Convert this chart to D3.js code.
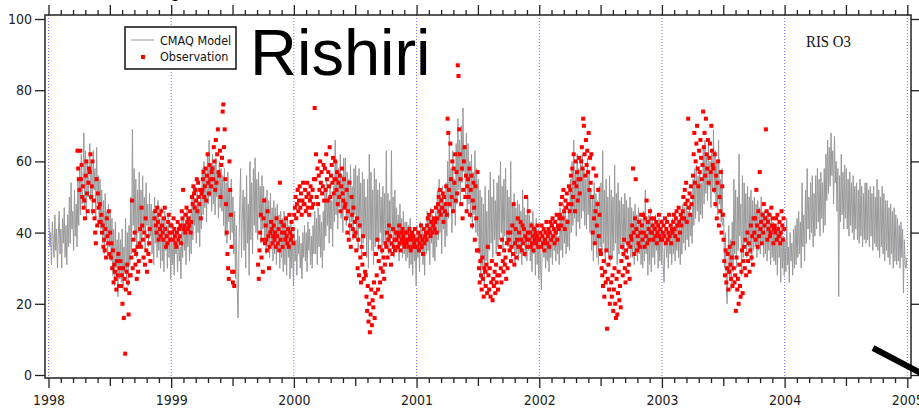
<!DOCTYPE html>
<html><head><meta charset="utf-8">
<script src="https://cdn.jsdelivr.net/npm/d3@7"></script>
<style>body{margin:0;background:#fff}svg{display:block}</style>
</head><body>
<svg id="chart" width="919" height="411"></svg>
<script>
// Daily O3 at Rishiri (ppb): CMAQ model, 12 values per month, Jan 1998 - Dec 2004
const model1998 = [44,36,40,31,43,38,33,45,35,41,30,39, 46,34,41,30,44,37,47,33,42,31,45,36, 50,37,54,41,46,35,52,39,48,36,55,42,
  58,45,62,48,55,68,47,63,44,60,50,57, 65,49,60,45,63,52,58,44,64,48,56,43, 55,41,52,37,49,34,51,38,46,33,48,36,
  46,32,44,28,41,25,43,30,38,22,40,27, 38,26,41,24,36,29,44,27,40,25,42,31, 50,34,69,42,58,38,55,33,52,40,57,36,
  52,38,56,40,50,35,54,42,48,36,51,39, 48,34,46,31,50,37,45,33,49,35,44,30, 47,32,44,29,46,35,42,30,45,33,40,27];
const model1999 = [40,31,38,28,41,34,37,29,39,32,36,27, 44,33,46,35,41,31,47,36,43,32,45,34, 50,38,53,42,48,37,52,40,49,36,51,41,
  58,45,60,47,56,43,62,48,66,50,59,46, 62,48,59,45,61,50,57,44,60,47,58,46, 56,42,58,39,54,37,57,43,52,38,55,40,
  50,34,46,27,42,24,16,35,48,58,33,45, 52,35,50,30,56,37,48,28,60,38,54,34, 58,42,61,40,55,38,57,44,53,37,56,41,
  53,38,50,34,52,36,49,33,51,37,47,32, 49,34,47,31,48,35,45,30,46,33,44,29, 46,31,44,28,45,33,42,27,43,30,40,25];
const model2000 = [40,32,38,28,41,34,39,30,37,27,40,33, 42,32,40,29,43,35,41,31,39,30,42,34, 46,34,44,31,47,36,45,33,43,30,46,35,
  52,39,55,42,50,37,54,41,49,36,53,43, 66,45,60,41,58,47,62,44,56,40,61,48, 61,42,57,44,55,39,59,43,53,38,58,45,
  59,38,56,35,58,41,54,33,57,37,55,39, 50,33,55,30,62,38,57,35,52,31,58,36, 55,38,52,35,54,40,50,34,53,37,51,36,
  63,38,51,34,49,36,63,40,50,33,52,37, 47,35,45,32,48,36,44,33,46,34,43,32, 43,33,42,30,44,31,40,28,41,32,38,25];
const model2001 = [42,33,40,29,43,35,41,31,39,28,42,34, 46,35,44,31,47,37,45,33,43,32,46,36, 52,38,55,40,50,34,53,41,48,36,54,39,
  60,44,68,47,58,40,63,46,55,42,65,48, 72,52,66,48,70,54,75,57,64,50,68,46, 65,48,60,44,62,41,57,45,63,40,58,39,
  55,34,52,27,50,30,48,25,53,32,46,28, 52,35,57,37,50,33,55,38,49,34,54,36, 56,38,60,40,53,35,55,39,58,37,52,36,
  50,35,60,33,48,36,51,31,47,34,49,32, 48,34,46,31,52,37,47,33,45,32,50,35, 45,32,43,29,46,34,42,28,44,31,41,27];
const model2002 = [40,31,24,36,41,33,39,30,38,32,40,29, 42,33,40,31,43,35,41,32,42,34,39,31, 47,35,45,33,48,37,46,34,44,36,47,35,
  55,40,60,42,66,44,57,39,62,43,58,41, 60,44,62,46,58,42,55,41,61,45,57,40, 52,35,50,32,54,37,51,33,49,31,53,36,
  54,34,63,37,52,31,55,35,50,33,56,32, 52,33,50,35,59,37,51,31,54,34,49,36, 50,35,48,33,51,37,49,34,47,36,50,33,
  47,33,46,31,48,35,45,32,47,34,44,31, 44,30,46,32,52,34,43,28,45,31,47,29, 44,33,42,31,45,35,43,30,44,32,41,31];
const model2003 = [42,31,26,38,41,33,40,30,39,34,41,31, 44,34,42,32,45,35,43,33,44,31,42,34, 48,37,47,35,49,38,46,36,48,39,45,37,
  55,42,58,44,59,46,56,43,57,45,54,44, 64,48,66,51,62,49,65,53,60,47,63,52, 69,51,63,47,60,45,66,48,55,43,58,42,
  44,30,40,25,20,31,42,27,38,24,43,29, 55,34,52,30,50,35,62,39,48,28,56,33, 54,37,51,33,53,36,50,34,52,32,49,35,
  50,36,48,33,49,35,47,34,50,37,46,33, 46,34,45,32,46,35,44,31,45,33,43,32, 42,31,41,28,43,33,40,26,42,30,39,28];
const model2004 = [38,29,44,31,36,26,40,32,37,28,41,30, 42,31,44,33,46,34,43,30,54,36,45,32, 52,37,58,41,50,38,54,40,56,36,51,39,
  56,41,58,43,55,39,57,44,54,40,58,42, 62,49,66,51,64,53,68,56,63,48,67,54, 60,46,58,22,56,43,62,45,57,41,59,44,
  58,41,55,39,57,42,54,40,56,38,53,41, 54,38,52,37,55,39,53,36,51,38,54,37, 54,38,52,36,53,39,51,35,53,37,50,36,
  55,35,52,33,50,36,53,34,51,32,49,35, 49,33,47,31,48,34,46,30,47,32,45,31, 44,32,42,30,43,33,41,23,38,31,30,33];

// Observations, 15 values per month (null = no measurement), Jan 1998 - Dec 2003
const N = null;
const obs1998 = [N,N,N,N,N,N,N,N,N,N,N,N,N,N,N, N,N,N,N,N,N,N,N,N,N,N,N,N,N,N, N,N,N,N,N,N,N,N,N,N,N,N,63,58,55,
  52,63,55,59,50,53,47,49,44,56,60,51,46,54,58, 57,62,50,53,60,46,49,44,40,37,55,42,51,47,43, 48,43,45,40,42,36,38,35,41,33,44,39,37,46,34,
  40,33,37,30,35,26,31,29,27,24,32,28,34,25,30, 32,25,28,20,30,16,27,6,24,29,31,26,17,23,28, 28,33,49,30,38,35,40,31,34,27,36,29,32,37,41,
  36,47,42,38,33,40,31,44,35,29,39,34,37,41,32, N,N,N,N,N,44,46,42,40,47,43,38,45,41,39, 46,42,40,38,44,47,41,36,39,37,43,45,40,38,42];
const obs1999 = [42,40,38,44,41,39,37,36,40,43,38,41,39,42,37, 46,44,52,41,42,40,45,47,43,41,44,42,46,40,43, 50,48,53,51,47,52,49,55,46,54,50,48,52,44,51,
  52,55,57,50,53,58,49,56,62,54,51,59,55,53,57, 58,55,64,60,52,66,54,62,69,57,56,63,50,59,61, 74,76,64,69,55,48,40,34,30,27,60,52,45,36,29,
  26,29,25,N,N,N,N,N,N,N,N,N,N,N,N, N,N,N,N,N,N,N,N,N,N,N,N,N,N,N, N,N,N,N,N,N,N,31,27,35,40,45,33,38,29,
  44,49,37,42,38,35,46,39,30,36,40,43,41,37,39, 42,38,40,36,44,39,37,41,35,54,38,43,40,36,42, 42,40,38,44,39,37,41,36,45,40,38,43,39,41,37];
const obs2000 = [45,47,50,44,48,52,46,49,53,47,51,45,49,54,48, 48,52,46,50,54,47,51,45,49,53,50,47,52,48,55, 75,55,62,50,58,48,56,52,60,54,57,51,53,59,49,
  58,52,62,55,49,57,53,64,50,56,59,54,61,51,55, 60,55,52,57,48,54,50,56,46,53,58,51,49,55,47, 48,44,52,40,46,38,54,42,36,50,45,41,47,39,43,
  40,35,44,30,38,28,42,33,26,36,31,39,27,34,29, 28,22,18,25,15,20,12,17,24,14,21,19,26,16,23, 34,28,38,24,32,36,26,30,22,35,29,33,27,31,37,
  36,40,33,38,42,35,39,31,37,34,41,36,38,35,40, 38,40,36,39,42,37,35,40,38,41,39,37,36,40,38, 37,40,38,36,41,39,35,38,40,36,39,37,41,38,36];
const obs2001 = [36,38,40,35,37,39,42,36,38,34,41,37,39,40,38, 42,44,40,45,41,39,43,46,40,42,44,41,43,47,40, 44,48,50,46,52,45,49,47,51,43,50,46,48,53,45,
  72,68,52,48,65,55,50,60,46,58,54,62,49,57,51, 87,84,69,62,55,48,58,44,52,60,64,50,56,46,53, 55,50,58,45,52,56,42,49,54,47,38,53,44,35,57,
  35,30,26,32,28,24,33,27,22,30,29,25,31,23,36, 28,24,30,22,26,32,21,27,25,29,23,31,26,28,24, 34,28,36,30,26,38,32,29,35,31,33,27,37,30,40,
  38,35,40,32,36,42,34,48,31,37,41,33,38,44,36, 40,36,43,38,35,42,37,41,34,39,50,38,36,40,46, 38,40,36,42,37,39,35,41,38,40,37,39,42,36,38];
const obs2002 = [38,40,36,42,39,37,41,35,38,40,43,37,39,41,36, 40,43,38,42,44,39,41,37,43,40,45,38,42,41,44, 45,48,42,50,44,52,46,41,49,47,51,43,48,53,46,
  52,56,48,58,50,62,54,46,60,53,57,49,55,61,51, 55,60,64,58,72,70,62,56,66,59,63,57,68,52,61, 54,62,50,40,58,44,37,46,56,42,48,52,39,45,35,
  34,30,28,25,32,22,29,26,35,13,27,31,24,20,33, 26,22,28,18,24,30,20,16,27,17,23,29,21,25,19, 32,36,28,34,38,30,26,35,33,29,37,31,27,36,39,
  38,42,58,40,34,44,55,41,35,39,37,43,36,40,45, 42,38,45,40,36,44,39,49,37,43,41,38,46,40,44, 40,42,38,44,41,39,43,37,40,42,45,39,41,38,43];
const obs2003 = [38,40,42,39,44,37,41,43,38,40,45,39,42,37,41, 40,43,45,41,39,44,46,42,38,47,43,40,45,42,44, 46,50,44,52,48,54,43,49,72,47,51,45,53,48,50,
  56,62,68,54,60,65,70,58,53,63,57,66,61,55,59, 74,64,68,56,72,62,58,66,54,61,65,57,70,63,59, 58,52,62,48,56,44,54,60,42,50,46,57,40,53,45,
  38,32,28,35,26,30,34,24,29,36,31,27,33,25,37, 30,26,28,18,33,24,27,20,31,25,22,29,35,23,32, 36,30,38,28,34,40,32,37,29,35,42,33,39,31,44,
  40,44,38,52,42,36,46,39,57,41,43,37,45,40,48, 42,44,69,46,38,43,41,45,39,40,47,42,44,37,41, 42,40,44,38,45,41,39,43,37,40,46,42,38,44,41];

const yTicks = [0, 20, 40, 60, 80, 100];
const yearTicks = [1998, 1999, 2000, 2001, 2002, 2003, 2004, 2005];

const modelPerYear = 144, obsPerYear = 180;
const modelData = [].concat(model1998, model1999, model2000, model2001, model2002, model2003, model2004)
  .map((v, i) => ({ t: 1998 + (i + 0.5) / modelPerYear, v }));
const obsData = [].concat(obs1998, obs1999, obs2000, obs2001, obs2002, obs2003)
  .map((v, i) => ({ t: 1998 + (i + 0.5) / obsPerYear, v }))
  .filter(d => d.v !== null);

const svg = d3.select('#chart');
const frame = { l: 45, r: 911, t: 15, b: 378 };
const x = d3.scaleLinear().domain([1998, 2005]).range([48.5, 907.3]);
const y = d3.scaleLinear().domain([0, 100]).range([375, 19]);

svg.append('rect').attr('width', 919).attr('height', 411).attr('fill', '#fff');

// yearly dotted guides
svg.append('g').selectAll('line').data(yearTicks).join('line')
  .attr('x1', d => x(d)).attr('x2', d => x(d))
  .attr('y1', frame.t).attr('y2', frame.b)
  .attr('stroke', '#6f6fff').attr('stroke-width', 1).attr('stroke-dasharray', '1,2');

svg.append('clipPath').attr('id', 'plotclip').append('rect')
  .attr('x', frame.l).attr('y', frame.t).attr('width', frame.r - frame.l).attr('height', frame.b - frame.t);

const plot = svg.append('g').attr('clip-path', 'url(#plotclip)');

plot.append('path').datum(modelData)
  .attr('fill', 'none').attr('stroke', '#999').attr('stroke-width', 1)
  .attr('d', d3.line().x(d => x(d.t)).y(d => y(d.v)));

plot.append('g').selectAll('rect').data(obsData).join('rect')
  .attr('x', d => x(d.t) - 2).attr('y', d => y(d.v) - 2)
  .attr('width', 4).attr('height', 4).attr('fill', '#ff0000');

// axes
const halfYears = d3.range(1998.5, 2005, 1);
const tenths = d3.range(0, 71).map(i => 1998 + i / 10).filter(v => Math.abs(v * 2 - Math.round(v * 2)) > 1e-6);
const axisColor = '#222';
function styleAxis(g) {
  g.select('.domain').remove();
  g.attr('color', axisColor);
  g.selectAll('.tick line').attr('stroke-width', 1.3);
  g.selectAll('.tick text').attr('font-family', '"DejaVu Sans Condensed","DejaVu Sans",sans-serif').attr('font-size', 14).attr('fill', '#222');
}
svg.append('g').attr('transform', `translate(0,${frame.b})`)
  .call(d3.axisBottom(x).tickValues(yearTicks).tickFormat(d3.format('d')).tickSize(10).tickPadding(7)).call(styleAxis);
svg.append('g').attr('transform', `translate(0,${frame.b})`)
  .call(d3.axisBottom(x).tickValues(halfYears).tickFormat('').tickSize(8)).call(styleAxis);
svg.append('g').attr('transform', `translate(0,${frame.b})`)
  .call(d3.axisBottom(x).tickValues(tenths).tickFormat('').tickSize(5)).call(styleAxis);
svg.append('g').attr('transform', `translate(0,${frame.t})`)
  .call(d3.axisTop(x).tickValues(yearTicks.concat(halfYears)).tickFormat('').tickSize(10)).call(styleAxis);
svg.append('g').attr('transform', `translate(0,${frame.t})`)
  .call(d3.axisTop(x).tickValues(tenths).tickFormat('').tickSize(5)).call(styleAxis);
svg.append('g').attr('transform', `translate(${frame.l},0)`)
  .call(d3.axisLeft(y).tickValues(yTicks).tickSize(10).tickPadding(3)).call(styleAxis);
svg.append('g').attr('transform', `translate(${frame.r},0)`)
  .call(d3.axisRight(y).tickValues(yTicks).tickFormat('').tickSize(8)).call(styleAxis);

svg.append('rect').attr('x', frame.l).attr('y', frame.t)
  .attr('width', frame.r - frame.l).attr('height', frame.b - frame.t)
  .attr('fill', 'none').attr('stroke', axisColor).attr('stroke-width', 1.5);

// legend
const lg = svg.append('g');
lg.append('rect').attr('x', 125).attr('y', 27).attr('width', 111).attr('height', 42)
  .attr('fill', '#fff').attr('stroke', '#111').attr('stroke-width', 1.5);
lg.append('line').attr('x1', 131).attr('x2', 154).attr('y1', 40).attr('y2', 40)
  .attr('stroke', '#999').attr('stroke-width', 1);
lg.append('rect').attr('x', 141).attr('y', 55).attr('width', 4).attr('height', 4).attr('fill', '#ff0000');
lg.selectAll('text').data(['CMAQ Model', 'Observation']).join('text')
  .attr('x', 160).attr('y', (d, i) => 45 + i * 16)
  .attr('font-family', '"DejaVu Sans Condensed","DejaVu Sans",sans-serif').attr('font-size', 12.5)
  .attr('fill', '#111').text(d => d);

// station title and tag
svg.append('text').attr('x', 250).attr('y', 75)
  .attr('font-family', '"Liberation Sans",Arial,sans-serif').attr('font-size', 65)
  .attr('fill', '#000').text('Rishiri');
svg.append('text').attr('x', 806).attr('y', 47)
  .attr('font-family', '"Liberation Serif","Times New Roman",serif').attr('font-size', 16)
  .attr('textLength', 45).attr('lengthAdjust', 'spacingAndGlyphs')
  .attr('fill', '#111').text('RIS O3');
svg.append('text').attr('x', 170).attr('y', -3)
  .attr('font-family', '"Liberation Sans",Arial,sans-serif').attr('font-size', 18)
  .attr('fill', '#000').text('g');

// pointer stroke at lower right
svg.append('line').attr('x1', 873).attr('y1', 348).attr('x2', 930).attr('y2', 378)
  .attr('stroke', '#000').attr('stroke-width', 6);
</script>
</body></html>
